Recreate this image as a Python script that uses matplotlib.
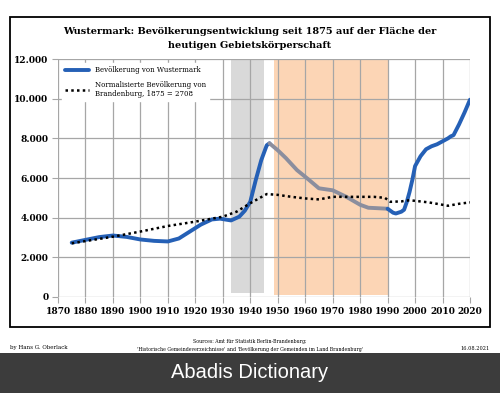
import matplotlib.pyplot as plt
from matplotlib.patches import Rectangle
from matplotlib.ticker import FuncFormatter

# Wustermark population
years = [1875, 1880, 1885, 1890, 1895, 1900, 1905, 1910, 1914, 1918, 1922, 1926, 1929, 1933,
         1936, 1938, 1940, 1942, 1944, 1946, 1947, 1950, 1953, 1957, 1961, 1965, 1970, 1975,
         1980, 1983, 1986, 1990, 1992, 1993, 1995, 1996, 1997, 1998, 1999, 2000, 2002, 2004,
         2006, 2008, 2010, 2012, 2013, 2014, 2016, 2018, 2020]
pop = [2740, 2880, 3020, 3100, 3030, 2900, 2830, 2800, 2950, 3300, 3650, 3910, 3950, 3860,
       4050, 4350, 4800, 5900, 6900, 7650, 7750, 7400, 7000, 6400, 5950, 5480, 5380, 5050,
       4650, 4500, 4480, 4450, 4250, 4210, 4300, 4400, 4800, 5300, 5900, 6600, 7100, 7450,
       7600, 7700, 7850, 8000, 8100, 8160, 8700, 9300, 9950]

# normalised Brandenburg population, 1875 = 2708
bb_years = [1875, 1890, 1900, 1910, 1920, 1930, 1935, 1940, 1946, 1950, 1955, 1960, 1965,
            1970, 1975, 1980, 1985, 1989, 1991, 1995, 1998, 2005, 2010, 2012, 2016, 2020]
bb_pop = [2708, 3040, 3300, 3580, 3800, 4050, 4300, 4730, 5190, 5150, 5050, 4970, 4920,
          5050, 5050, 5050, 5050, 5000, 4800, 4820, 4880, 4770, 4650, 4600, 4700, 4770]

war_period = (1933, 1945)
gdr_period = (1948.5, 1990)

fig = plt.figure(figsize=(5, 3.93), dpi=100)
fig.patch.set_facecolor('white')

# outer frame
fig.add_artist(Rectangle((10 / 500, 1 - 327 / 393), 480 / 500, 310 / 393,
                         transform=fig.transFigure, fill=False, lw=1.3, ec='black'))

ax = fig.add_axes([0.116, 1 - 297 / 393, 0.824, (297 - 59) / 393])
serif = 'DejaVu Serif'

ax.axvspan(*war_period, ymin=0.015, ymax=1, color='#d9d9d9', lw=0, zorder=0)
ax.axvspan(*gdr_period, ymin=0.01, ymax=1, color='#fcd5b5', lw=0, zorder=0)

ax.grid(True, color='#a6a6a6', lw=0.9, zorder=1)
ax.set_axisbelow(False)

blue = '#2560b6'
pre = [(y, p) for y, p in zip(years, pop) if y <= 1947]
gdr = [(y, p) for y, p in zip(years, pop) if 1947 <= y <= 1990]
post = [(y, p) for y, p in zip(years, pop) if y >= 1990]
ax.plot(*zip(*pre), color=blue, lw=2.8, solid_capstyle='round', zorder=3,
        label='Bevölkerung von Wustermark')
ax.plot(*zip(*gdr), color='#8b8e9e', lw=2.8, solid_capstyle='round', zorder=3)
ax.plot(*zip(*post), color=blue, lw=2.8, solid_capstyle='round', zorder=3)
ax.plot(bb_years, bb_pop, color='black', lw=1.8, ls=(0, (1, 1.3)), zorder=4,
        label='Normalisierte Bevölkerung von\nBrandenburg, 1875 = 2708')

ax.set_xlim(1870, 2020)
ax.set_ylim(0, 12000)
ax.set_xticks(range(1870, 2021, 10))
ax.set_yticks(range(0, 12001, 2000))
ax.yaxis.set_major_formatter(FuncFormatter(lambda v, _: f'{int(v):,}'.replace(',', '.')))
for s in ax.spines.values():
    s.set_visible(False)
ax.tick_params(length=4, color='#a6a6a6', labelsize=6.5, pad=3)
for lab in ax.get_xticklabels() + ax.get_yticklabels():
    lab.set_fontfamily(serif)
    lab.set_fontweight('bold')

leg = ax.legend(loc='upper left', bbox_to_anchor=(0.0, 1.0), frameon=True, fancybox=False,
                edgecolor='white', framealpha=1, prop={'family': serif, 'size': 5},
                handlelength=3.5, borderaxespad=0.6, labelspacing=1.0)
leg.set_zorder(5)

fig.text(0.5, 1 - 31 / 393, 'Wustermark: Bevölkerungsentwicklung seit 1875 auf der Fläche der',
         ha='center', va='center', family=serif, weight='bold', size=7)
fig.text(0.5, 1 - 45 / 393, 'heutigen Gebietskörperschaft',
         ha='center', va='center', family=serif, weight='bold', size=7)

fig.text(10 / 500, 1 - 348 / 393, 'by Hans G. Oberlack', ha='left', va='center',
         family=serif, size=4)
fig.text(0.5, 1 - 341 / 393, 'Sources: Amt für Statistik Berlin-Brandenburg;', ha='center',
         va='center', family=serif, size=3.3)
fig.text(0.5, 1 - 349 / 393,
         "'Historische Gemeindeverzeichnisse' and 'Bevölkerung der Gemeinden im Land Brandenburg'",
         ha='center', va='center', family=serif, size=3.3)
fig.text(490 / 500, 1 - 348 / 393, '16.08.2021', ha='right', va='center', family=serif, size=3.6)

# watermark bar
fig.add_artist(Rectangle((0, 0), 1, 40 / 393, transform=fig.transFigure,
                         color='#3c3c3c', lw=0))
fig.text(0.5, 20 / 393, 'Abadis Dictionary', ha='center', va='center', color='white',
         family='Liberation Sans', size=14.5)

fig.savefig('out.png', dpi=100)
